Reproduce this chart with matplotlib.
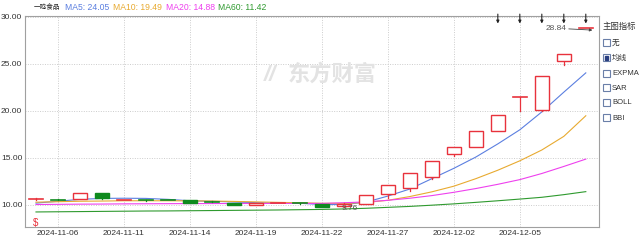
import matplotlib
matplotlib.use("Agg")
import matplotlib.pyplot as plt
from matplotlib.patches import Rectangle
import numpy as np

plt.rcParams['font.family'] = ['Liberation Sans', 'Noto Sans CJK SC', 'DejaVu Sans']

# trading days shown
dates = ['11-05', '11-06', '11-07', '11-08', '11-11', '11-12', '11-13', '11-14',
         '11-15', '11-18', '11-19', '11-20', '11-21', '11-22', '11-25', '11-26',
         '11-27', '11-28', '11-29', '12-02', '12-03', '12-04', '12-05', '12-06',
         '12-09', '12-10']
opens = [10.62, 10.58, 10.62, 11.30, 10.50, 10.52, 10.48, 10.50, 10.35, 10.22,
         10.00, 10.22, 10.22, 10.12, 9.85, 10.12, 11.17, 11.81, 12.98, 15.43,
         16.17, 17.87, 21.53, 20.05, 25.30, 28.84]
closes = [10.64, 10.56, 11.28, 10.70, 10.53, 10.50, 10.45, 10.20, 10.33, 10.00,
          10.20, 10.24, 10.20, 9.80, 10.15, 11.08, 12.13, 13.40, 14.68, 16.17,
          17.87, 19.57, 21.53, 23.68, 26.05, 28.84]
highs = [10.72, 10.60, 11.30, 11.32, 10.55, 10.58, 10.55, 10.52, 10.40, 10.24,
         10.22, 10.26, 10.25, 10.14, 10.20, 11.10, 12.15, 13.42, 14.70, 16.20,
         17.90, 19.60, 21.53, 23.68, 26.05, 28.84]
lows = [10.56, 10.52, 10.60, 10.68, 10.48, 10.47, 10.40, 10.18, 10.28, 9.98,
        9.98, 10.18, 10.15, 9.76, 9.80, 10.10, 10.70, 11.50, 12.77, 15.20,
        16.15, 17.85, 20.00, 20.00, 24.90, 28.84]

ma5 = [10.20, 10.40, 10.60, 10.70, 10.72, 10.70, 10.60, 10.45, 10.40, 10.32,
       10.25, 10.20, 10.18, 10.05, 10.05, 10.30, 10.95, 11.70, 12.80, 13.90,
       15.10, 16.50, 18.00, 19.90, 22.00, 24.05]
ma10 = [10.30, 10.35, 10.40, 10.42, 10.45, 10.45, 10.45, 10.44, 10.42, 10.38,
        10.33, 10.28, 10.24, 10.18, 10.17, 10.27, 10.50, 10.90, 11.40, 12.00,
        12.80, 13.70, 14.70, 15.85, 17.30, 19.49]
ma20 = [10.05, 10.07, 10.09, 10.10, 10.12, 10.13, 10.14, 10.15, 10.15, 10.16,
        10.16, 10.17, 10.17, 10.17, 10.24, 10.33, 10.50, 10.72, 11.00, 11.35,
        11.75, 12.20, 12.70, 13.35, 14.10, 14.88]
ma60 = [9.26, 9.28, 9.30, 9.32, 9.34, 9.36, 9.37, 9.39, 9.41, 9.43,
        9.45, 9.47, 9.50, 9.53, 9.58, 9.65, 9.75, 9.85, 9.98, 10.12,
        10.28, 10.45, 10.63, 10.82, 11.10, 11.42]

tick_idx = [1, 4, 7, 10, 13, 16, 19, 22]
limit_up = [21, 22, 23, 24, 25]
options = ['无', '均线', 'EXPMA', 'SAR', 'BOLL', 'BBI']

RED = '#e8323c'
GREEN = '#0e8a1e'
C5, C10, C20, C60 = '#5b7fe0', '#e8aa30', '#ee40ee', '#2f9a2f'

fig = plt.figure(figsize=(6.4, 2.43), dpi=100)
ax = fig.add_axes([25/640, 1-227/243, 574/640, 211/243])

x = np.arange(len(dates))
w = 0.66
for i in x:
    o, c, h, l = opens[i], closes[i], highs[i], lows[i]
    up = c >= o
    col = RED if up else GREEN
    lo, hi = min(o, c), max(o, c)
    ax.plot([i, i], [hi, h], color=col, lw=0.9, zorder=3)
    ax.plot([i, i], [l, lo], color=col, lw=0.9, zorder=3)
    if hi - lo < 0.05:
        ax.plot([i - w/2, i + w/2], [o, o], color=col, lw=1.2, zorder=3)
    else:
        ax.add_patch(Rectangle((i - w/2, lo), w, hi - lo, facecolor='white' if up else col,
                               edgecolor=col, lw=1.0, zorder=3))

ax.plot(x, ma5, color=C5, lw=0.8, zorder=2)
ax.plot(x, ma10, color=C10, lw=0.8, zorder=2)
ax.plot(x, ma20, color=C20, lw=0.8, zorder=2)
ax.plot(x, ma60, color=C60, lw=0.8, zorder=2)

ax.set_xlim(-0.5, 25.6)
ax.set_ylim(7.66, 30.1)
ax.set_yticks([10, 15, 20, 25, 30])
ax.set_yticklabels(['%.2f' % v for v in [10, 15, 20, 25, 30]])
ax.set_xticks(tick_idx)
ax.set_xticklabels(['2024-' + dates[i] for i in tick_idx])
ax.tick_params(length=0, labelsize=6, colors='#333333', pad=2)
ax.grid(True, color='#cccccc', ls=(0, (1, 1.5)), lw=0.7)
for s in ax.spines.values():
    s.set_color('#a0a0a0')

# limit-up arrows at the top
for i in limit_up:
    ax.annotate('', xy=(i, 29.3), xytext=(i, 30.3), annotation_clip=False,
                arrowprops=dict(arrowstyle='-|>', color='#222222', lw=0.8,
                                mutation_scale=4, shrinkA=0, shrinkB=0))

# max / min labels
ax.annotate('28.84', xy=(25.3, 28.6), xytext=(24.1, 28.8), fontsize=6, color='#555555',
            ha='right', va='center',
            arrowprops=dict(arrowstyle='-|>', color='#444444', lw=0.6, mutation_scale=4,
                            shrinkA=0, shrinkB=0))
ax.text(13.9, 9.6, '9.76', fontsize=6, color='#555555', ha='left', va='center')
ax.text(0, 8.1, r'\$', fontsize=7, color=RED, ha='center', va='center')

# header
fig.text(34/640, 1-7/243, '一鸣食品', fontsize=4.8, color='#222222', va='center')
fig.text(65/640, 1-7/243, 'MA5: %.2f' % ma5[-1], fontsize=6.2, color=C5, va='center')
fig.text(113/640, 1-7/243, 'MA10: %.2f' % ma10[-1], fontsize=6.2, color=C10, va='center')
fig.text(166/640, 1-7/243, 'MA20: %.2f' % ma20[-1], fontsize=6.2, color=C20, va='center')
fig.text(218/640, 1-7/243, 'MA60: %.2f' % ma60[-1], fontsize=6.2, color=C60, va='center')

# watermark
fig.text(332/640, 1-75/243, '东方财富', fontsize=16, color='#e3e3e3', ha='center',
         va='center', fontweight='bold', zorder=0)
fig.text(270/640, 1-75/243, '//', fontsize=16, color='#e3e3e3', ha='center',
         va='center', fontweight='bold', style='italic', zorder=0)

# right option panel
fig.text(603/640, 1-27/243, '主图指标', fontsize=6, color='#333333', va='center')
for k, name in enumerate(options):
    yc = 43 + 15*k
    fig.patches.append(Rectangle((603/640, 1-(yc+3.5)/243), 7/640, 7/243,
                                 transform=fig.transFigure, fill=False,
                                 edgecolor='#6a7fa8', lw=0.8))
    if k == 1:
        fig.patches.append(Rectangle((605/640, 1-(yc+1.5)/243), 3/640, 3/243,
                                     transform=fig.transFigure, color='#2a3f80'))
    fig.text(612/640, 1-yc/243, name, fontsize=5.5, color='#333333', va='center')

fig.savefig('out.png', dpi=100)
